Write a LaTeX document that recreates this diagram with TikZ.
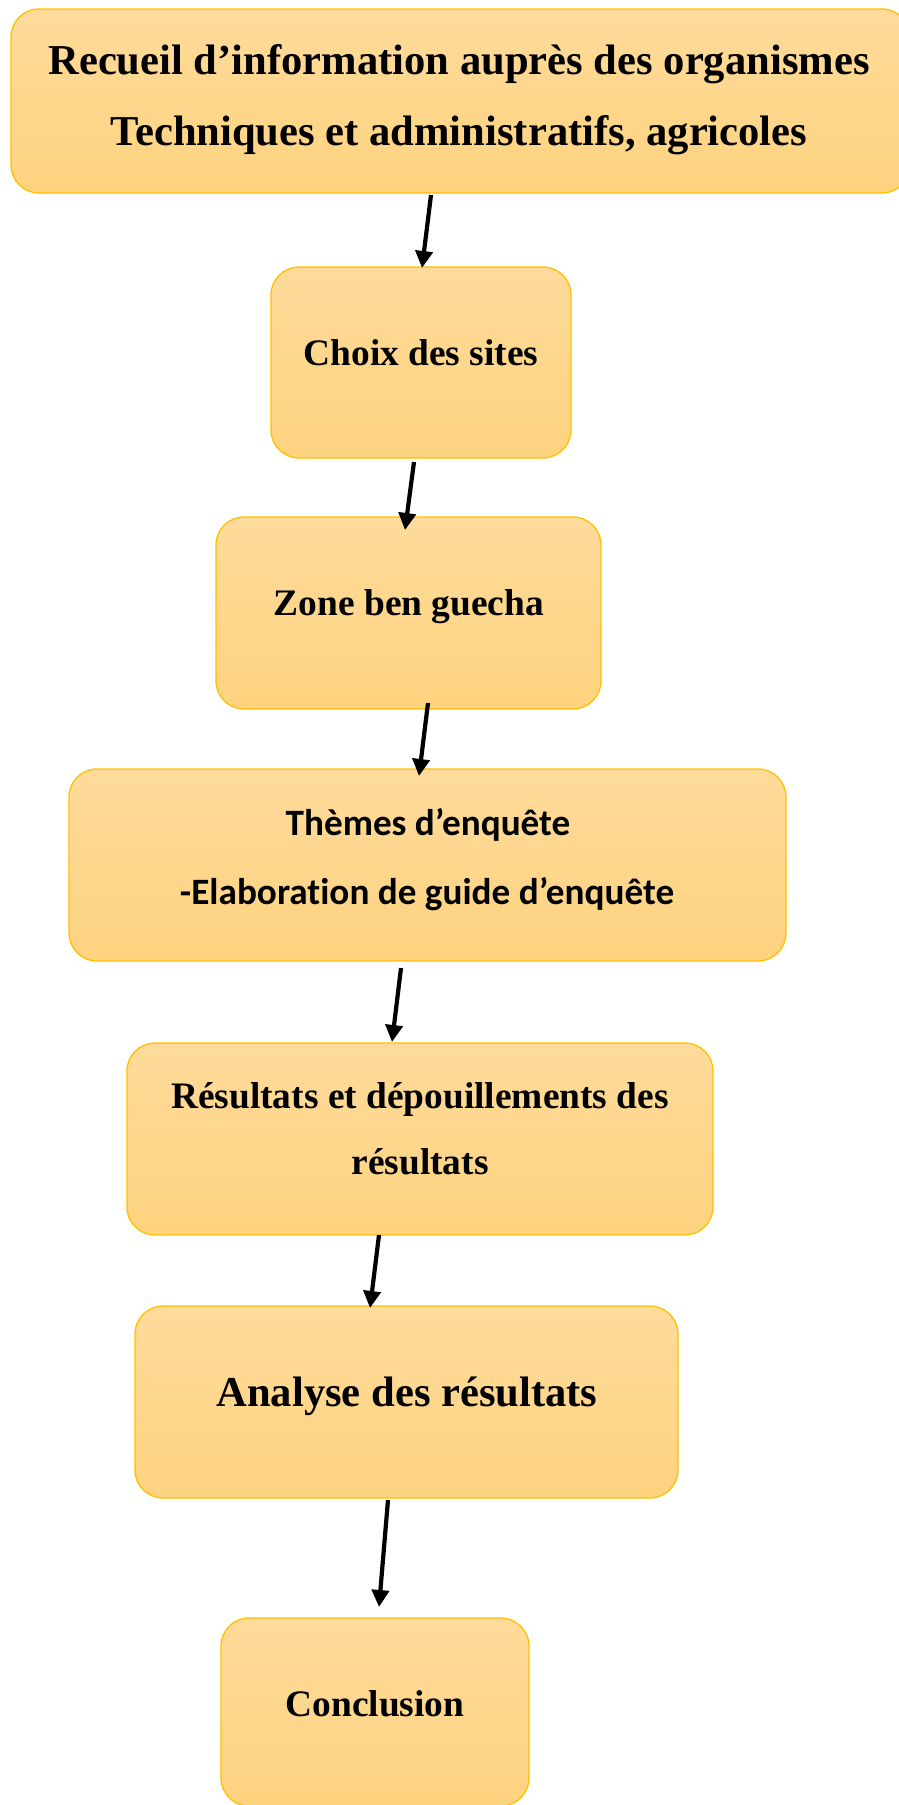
\documentclass[tikz,border=0pt]{standalone}
\usepackage{fontspec}
\setmainfont{Liberation Serif}
\newfontfamily\calib[Ligatures={NoCommon}]{Carlito}
\usetikzlibrary{arrows.meta}
\definecolor{boxtop}{HTML}{FEDB9B}
\definecolor{boxbot}{HTML}{FED37F}
\definecolor{boxline}{HTML}{FFC000}
\tikzset{
  stepbox/.style={draw=boxline, line width=1.3pt, rounded corners=28pt,
    top color=boxtop, bottom color=boxbot, inner sep=0pt, outer sep=0pt},
  lbl/.style={anchor=base, inner sep=0pt, font=\bfseries\fontsize{37.4}{40}\selectfont},
  lblbig/.style={anchor=base, inner sep=0pt, font=\bfseries\fontsize{42.6}{46}\selectfont},
  lblsans/.style={anchor=base, inner sep=0pt, font=\calib\bfseries\fontsize{37.2}{40}\selectfont},
  arr/.style={line width=4.2pt, -{Triangle[length=17pt,width=17pt]}}
}
\begin{document}
\begin{tikzpicture}[x=1pt,y=-1pt]
\useasboundingbox (0,0) rectangle (898,1805);
% boxes
\node[stepbox, minimum width=899pt, minimum height=184pt] (b1) at (460.5,101) {};
\node[stepbox, minimum width=300pt, minimum height=191pt] (b2) at (421,362.5) {};
\node[stepbox, minimum width=385pt, minimum height=192pt] (b3) at (408.5,613) {};
\node[stepbox, minimum width=717pt, minimum height=192pt] (b4) at (427.5,865) {};
\node[stepbox, minimum width=586pt, minimum height=192pt] (b5) at (420,1139) {};
\node[stepbox, minimum width=543pt, minimum height=192pt] (b6) at (406.5,1402) {};
\node[stepbox, minimum width=308pt, minimum height=188pt] (b7) at (375,1712) {};
% texts
\node[lblbig] (t1a) at (459,74.5) {Recueil d’information auprès des organismes};
\node[lblbig] (t1b) at (459,145) {Techniques et administratifs, agricoles};
\node[lbl] (t2) at (421,365) {Choix des sites};
\node[lbl] (t3) at (409,615) {Zone ben guecha};
\node[lblsans] (t4a) at (428,835.5) {Thèmes d’enquête};
\node[lblsans] (t4b) at (427,904.5) {-Elaboration de guide d’enquête};
\node[lbl] (t5a) at (420,1108) {Résultats et dépouillements des};
\node[lbl] (t5b) at (420,1174) {résultats};
\node[lblbig] (t6) at (407,1406) {Analyse des résultats};
\node[lbl] (t7) at (375,1716) {Conclusion};
% arrows
\draw[arr] ([shift={(-29.5,2)}]b1.south) -- ([shift={(1,1)}]b2.north);
\draw[arr] ([shift={(-7,4)}]b2.south) -- ([shift={(-3.5,13)}]b3.north);
\draw[arr] ([shift={(19.5,-6)}]b3.south) -- ([shift={(-8.5,7)}]b4.north);
\draw[arr] ([shift={(-26.5,7)}]b4.south) -- ([shift={(-28,-1)}]b5.north);
\draw[arr] ([shift={(-41,0)}]b5.south) -- ([shift={(-36.5,2)}]b6.north);
\draw[arr] ([shift={(-18.5,2)}]b6.south) -- ([shift={(4,-11)}]b7.north);
\end{tikzpicture}
\end{document}
